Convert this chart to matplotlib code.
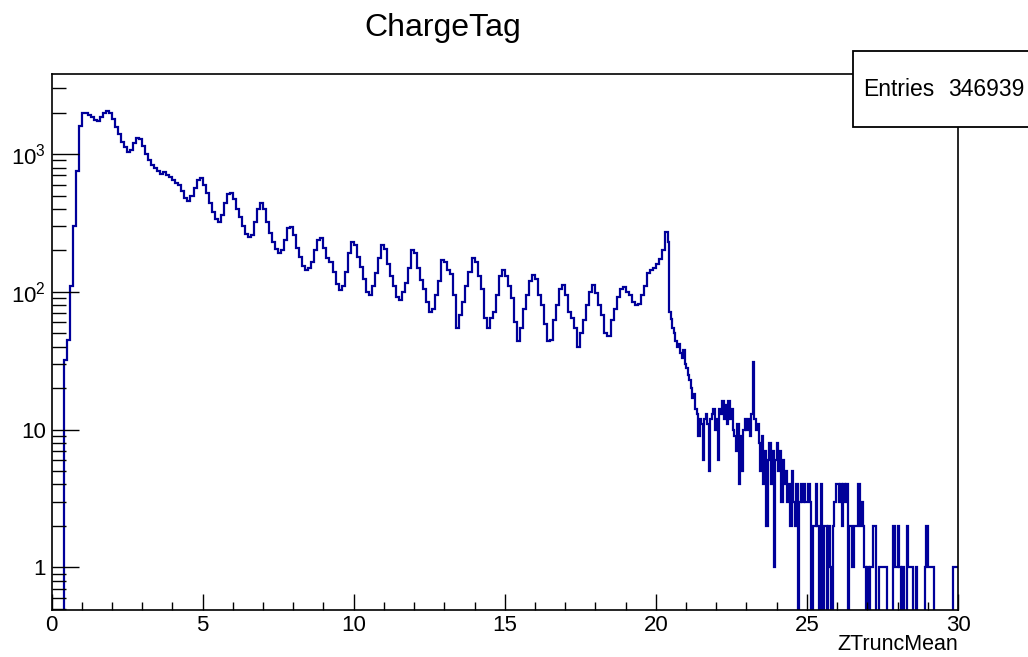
import numpy as np
import matplotlib
matplotlib.use('Agg')
import matplotlib.pyplot as plt
from matplotlib.patches import Rectangle
from matplotlib.ticker import FixedLocator, LogLocator, NullFormatter, MultipleLocator

# ---------------- data ----------------
title = "ChargeTag"
x_label = "ZTruncMean"
entries = 346939

main_width = 0.1   # bins from 0.0 to 20.4
main_counts = [
    0, 0, 0, 0, 32, 45, 110, 300, 750, 1600,
    1980, 2000, 1930, 1850, 1780, 1740, 1850, 1980, 2050, 2000,
    1800, 1580, 1400, 1230, 1120, 1040, 1080, 1200, 1320, 1280,
    1150, 1010, 900, 830, 790, 760, 720, 740, 700, 680,
    650, 620, 600, 540, 480, 460, 500, 570, 650, 670,
    600, 520, 440, 380, 340, 320, 360, 440, 510, 520,
    470, 400, 350, 300, 265, 250, 260, 320, 400, 440,
    400, 320, 268, 230, 205, 192, 200, 240, 290, 298,
    260, 210, 180, 155, 145, 150, 165, 200, 240, 245,
    210, 175, 165, 140, 115, 103, 110, 140, 190, 230,
    220, 180, 152, 125, 100, 95, 110, 137, 175, 220,
    205, 160, 130, 110, 92, 87, 100, 116, 150, 200,
    190, 150, 122, 105, 85, 72, 75, 95, 120, 170,
    165, 145, 135, 95, 55, 68, 85, 110, 140, 176,
    165, 130, 105, 65, 55, 65, 72, 95, 130, 145,
    130, 110, 90, 60, 44, 55, 75, 95, 120, 133,
    125, 95, 80, 58, 44, 45, 62, 80, 105, 112,
    95, 72, 65, 55, 40, 50, 62, 80, 100, 112,
    98, 80, 68, 50, 48, 62, 75, 92, 105, 108,
    100, 95, 85, 80, 82, 95, 110, 138, 145, 150,
    160, 172, 200, 270,
]

tail_width = 0.05  # bins from 20.4 to 30.0
tail_counts = [
    230, 72, 64, 55, 50, 44, 40, 42, 36, 33, 38, 30,
    28, 25, 23, 20, 17, 18, 14, 13, 9, 12, 11, 6, 12, 13, 11, 5, 12, 13, 14, 10,
    12, 6, 14, 13, 16, 12, 15, 11, 16, 12, 14, 10, 9, 7, 11, 4, 9, 5, 10, 12,
    10, 12, 9, 13, 31, 12, 10, 11, 8, 5, 9, 4, 7, 2, 6, 8, 4, 7, 1, 6,
    8, 5, 7, 3, 6, 4, 5, 3, 4, 2, 5, 3, 2, 4, 0, 3, 4, 3, 4, 3,
    3, 4, 3, 0, 2, 2, 4, 2, 0, 4, 0, 2, 2, 0, 2, 1, 0, 2, 3, 4,
    4, 3, 4, 2, 4, 3, 4, 0, 2, 2, 1, 2, 2, 2, 4, 2, 3, 2, 1, 0,
    1, 0, 1, 1, 2, 2, 0, 0, 1, 1, 1, 1, 1, 0, 0, 0, 0, 2, 1, 1,
    2, 1, 0, 1, 0, 0, 2, 1, 1, 1, 0, 0, 1, 0, 0, 0, 0, 0, 1, 2,
    1, 1, 1, 1, 0, 0, 0, 0, 0, 0, 0, 0, 0, 0, 0, 0, 0, 1, 1, 1,
]

x_ticks = [0, 5, 10, 15, 20, 25, 30]
y_ticks = [1, 10, 100, 1000]
y_tick_labels = ['1', '10', r'$10^{2}$', r'$10^{3}$']

# ---------------- style ----------------
plt.rcParams['font.family'] = ['Liberation Sans', 'DejaVu Sans']
plt.rcParams['mathtext.fontset'] = 'custom'
plt.rcParams['mathtext.rm'] = 'Liberation Sans'
plt.rcParams['mathtext.it'] = 'Liberation Sans:italic'
plt.rcParams['mathtext.bf'] = 'Liberation Sans:bold'

W, H = 1028, 657
fig = plt.figure(figsize=(W / 100, H / 100), dpi=100)
left_px, right_px, top_px, bottom_px = 51.5, 958, 74, 609.5
ax = fig.add_axes([left_px / W, 1 - bottom_px / H,
                   (right_px - left_px) / W, (bottom_px - top_px) / H])

main_edges = np.round(np.arange(len(main_counts) + 1) * main_width, 4)
tail_edges = np.round(main_edges[-1] + np.arange(1, len(tail_counts) + 1) * tail_width, 4)
edges = np.concatenate([main_edges, tail_edges])
counts = np.array(main_counts + tail_counts, dtype=float)
draw_counts = np.where(counts > 0, counts, 1e-4)

ax.stairs(draw_counts, edges, baseline=None, color='#00009a', lw=1.6)

ax.set_yscale('log')
ax.set_xlim(0, 30)
ax.set_ylim(0.494, 3820)

ax.xaxis.set_major_locator(FixedLocator(x_ticks))
ax.xaxis.set_minor_locator(MultipleLocator(1))
ax.set_xticklabels([str(t) for t in x_ticks])
ax.yaxis.set_major_locator(FixedLocator(y_ticks))
ax.set_yticklabels(y_tick_labels)
ax.yaxis.set_minor_locator(LogLocator(base=10, subs=np.arange(2, 10), numticks=30))
ax.yaxis.set_minor_formatter(NullFormatter())

ax.tick_params(axis='both', which='both', direction='in', top=False, right=False,
               width=1.0, color='black', labelsize=16)
ax.tick_params(axis='x', which='major', length=11.5, pad=4)
ax.tick_params(axis='x', which='minor', length=5.8)
ax.tick_params(axis='y', which='major', length=19.5, pad=4)
ax.tick_params(axis='y', which='minor', length=10)

for s in ax.spines.values():
    s.set_linewidth(1.2)
    s.set_color('black')

fig.text(442.5 / W, 1 - 28 / H, title, ha='center', va='center', fontsize=23)
fig.text(958 / W, 1 - 644 / H, x_label, ha='right', va='center', fontsize=15.5)

# stats box
bx0, bx1, by0, by1 = 853.3, 1032, 50.7, 126.7
fig.add_artist(Rectangle((bx0 / W, 1 - by1 / H), (bx1 - bx0) / W, (by1 - by0) / H,
                         transform=fig.transFigure, facecolor='white',
                         edgecolor='black', lw=1.3, zorder=5))
fig.text(863 / W, 1 - 89 / H, 'Entries', ha='left', va='center', fontsize=16.5, zorder=6)
fig.text(1024 / W, 1 - 89 / H, str(entries), ha='right', va='center', fontsize=16.5, zorder=6)

fig.savefig('out.png', dpi=100)
